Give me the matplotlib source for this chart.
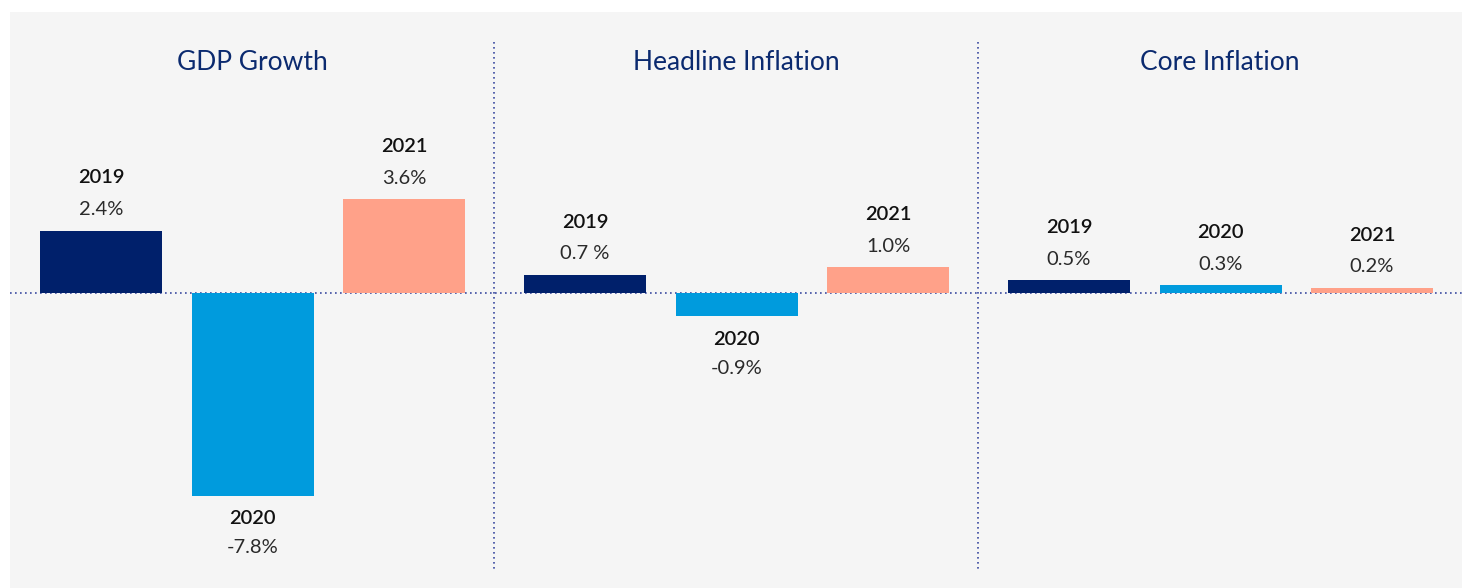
import matplotlib.pyplot as plt
from matplotlib.patches import Rectangle
from matplotlib.lines import Line2D

# Data
panels = ["GDP Growth", "Headline Inflation", "Core Inflation"]
years = ["2019", "2020", "2021"]
gdp = [2.4, -7.8, 3.6]
headline = [0.7, -0.9, 1.0]
core = [0.5, 0.3, 0.2]
value_labels = [
    ["2.4%", "-7.8%", "3.6%"],
    ["0.7 %", "-0.9%", "1.0%"],
    ["0.5%", "0.3%", "0.2%"],
]
series = [gdp, headline, core]

colors = ["#00206B", "#009BDD", "#FFA189"]
navy = "#0B2A6F"
dot_color = "#3A4AA0"

plt.rcParams['font.family'] = ['Lato', 'DejaVu Sans']

W, H = 1469, 588
fig = plt.figure(figsize=(W / 100, H / 100), dpi=100)
fig.patch.set_facecolor("white")

# Grey card behind the charts
fig.patches.append(Rectangle((10 / W, 0), 1452 / W, 576 / H,
                             transform=fig.transFigure, facecolor="#F5F5F5",
                             edgecolor="none", zorder=-10))

px_per_unit = 26.0
zero_y = 293            # pixels from top
step = 151.5            # pixels between bar centres
panel_w = 484
first_offset = 91

ylim = (-(H - zero_y) / px_per_unit, zero_y / px_per_unit)

# Dotted zero line across all panels
fig.add_artist(Line2D([10 / W, 1462 / W], [1 - zero_y / H, 1 - zero_y / H],
                      transform=fig.transFigure, color=dot_color, lw=1.2,
                      linestyle=(0, (1, 2)), zorder=-5))

# Dotted dividers between panels
for xd in (494, 978):
    fig.add_artist(Line2D([xd / W, xd / W], [1 - 42 / H, 1 - 570 / H],
                          transform=fig.transFigure, color=dot_color, lw=1.2,
                          linestyle=(0, (1, 2)), zorder=-5))

year_kw = dict(ha="center", va="center", fontsize=14.5, fontweight="semibold",
               color="#111111", textcoords="offset points")
val_kw = dict(ha="center", va="center", fontsize=14.5,
              color="#2A2A2A", textcoords="offset points")

for i, (title, vals) in enumerate(zip(panels, series)):
    left = 10 + i * panel_w
    ax = fig.add_axes([left / W, 0, panel_w / W, 1])
    ax.set_facecolor("none")
    ax.set_zorder(1)
    x0 = -first_offset / step
    ax.set_xlim(x0, x0 + panel_w / step)
    ax.set_ylim(*ylim)
    ax.axis("off")

    xs = range(len(vals))
    ax.bar(xs, vals, width=122 / step, color=colors, zorder=2)

    for x, v, yr, lab in zip(xs, vals, years, value_labels[i]):
        if v >= 0:
            ax.annotate(lab, (x, v), xytext=(0, 15), **val_kw)
            ax.annotate(yr, (x, v), xytext=(0, 38), **year_kw)
        else:
            ax.annotate(yr, (x, v), xytext=(0, -16.5), **year_kw)
            ax.annotate(lab, (x, v), xytext=(0, -37.5), **val_kw)

    fig.text((left + panel_w / 2) / W, 1 - 62 / H, title, ha="center",
             va="center", fontsize=19, color=navy)

fig.savefig("out.png", dpi=100, facecolor=fig.get_facecolor())
